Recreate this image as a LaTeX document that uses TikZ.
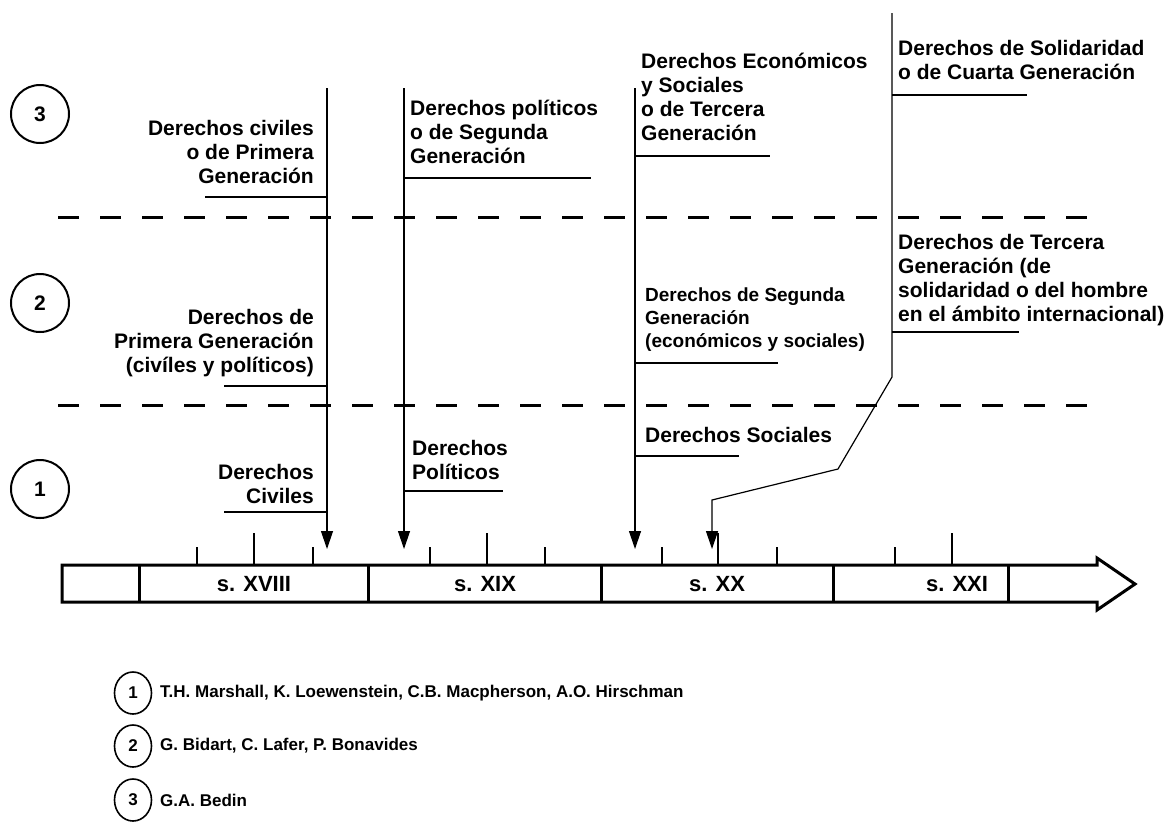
\documentclass[tikz,border=0pt]{standalone}
\usepackage{fontspec}
\setmainfont{Liberation Sans}
\usepackage{tikz}
\usetikzlibrary{calc,arrows.meta,shapes.geometric}

\begin{document}
\begin{tikzpicture}[x=1pt,y=-1pt]
\tikzstyle{num}=[circle,draw=black,line width=2pt,minimum size=58pt,inner sep=0pt,font=\fontsize{21}{24}\selectfont\bfseries]
\tikzstyle{lnum}=[ellipse,draw=black,line width=1.6pt,minimum width=37pt,minimum height=42pt,inner sep=0pt,font=\fontsize{17}{18}\selectfont\bfseries]
\tikzstyle{rights}=[inner sep=0pt,font=\fontsize{21}{24}\selectfont\bfseries]
\tikzstyle{leftr}=[rights,anchor=north west,align=left]
\tikzstyle{rightr}=[rights,anchor=north east,align=right]
\tikzstyle{pointer}=[-{Triangle[length=18pt,width=12pt]},line width=1.2pt]
\tikzstyle{under}=[line width=1.2pt]
\tikzstyle{level}=[dash pattern=on 21pt off 21pt,line width=3pt]
\tikzstyle{bar}=[line width=3pt,line join=miter]
\tikzstyle{smalltick}=[line width=1.2pt]
\tikzstyle{bigtick}=[line width=2pt]
\tikzstyle{century}=[font=\fontsize{22}{24}\selectfont\bfseries]
\tikzstyle{names}=[anchor=west,inner sep=0pt,font=\fontsize{17}{18}\selectfont\bfseries]

\useasboundingbox (0,0) rectangle (1174,831);

% levels
\draw[shift={(40,114)},color=black] node[num] (g3) {3};
\draw[shift={(40,303)},color=black] node[num] (g2) {2};
\draw[shift={(40,489)},color=black] node[num] (g1) {1};
\draw[level] (58,217) -- (1090,217);
\draw[level] (58,405) -- (1090,405);

% time line
\draw[bar] (62,565) -- (1097,565) -- (1097,558) -- (1135,584) -- (1097,610) -- (1097,602) -- (62,602) -- cycle;
\draw[bar] (139,565) -- (139,602);
\draw[bar] (368,565) -- (368,602);
\draw[bar] (601,565) -- (601,602);
\draw[bar] (833,565) -- (833,602);
\draw[bar] (1008,565) -- (1008,602);
\node[century] (s18) at (254,584) {s. XVIII};
\node[century] (s19) at (485,584) {s. XIX};
\node[century] (s20) at (717,584) {s. XX};
\node[century] (s21) at (957,584) {s. XXI};
\draw[smalltick] (197,547) -- (197,564);
\draw[bigtick] (254,533) -- (254,564);
\draw[smalltick] (313,547) -- (313,564);
\draw[smalltick] (430,547) -- (430,564);
\draw[bigtick] (487,533) -- (487,564);
\draw[smalltick] (545,547) -- (545,564);
\draw[smalltick] (662,547) -- (662,564);
\draw[bigtick] (718,533) -- (718,564);
\draw[smalltick] (777,547) -- (777,564);
\draw[smalltick] (895,547) -- (895,564);
\draw[bigtick] (952,533) -- (952,564);

% arrows
\coordinate (aTop) at (327,88);
\coordinate (aTip) at (327,549);
\coordinate (bTop) at (404,88);
\coordinate (bTip) at (404,549);
\coordinate (cTop) at (635,88);
\coordinate (cTip) at (635,549);
\coordinate (dTop) at (892,13);
\coordinate (dKnee) at (892,377);
\coordinate (dMid) at (838,469);
\coordinate (dFoot) at (712,500);
\coordinate (dTip) at (712,549);
\draw[pointer] (aTop) -- (aTip);
\draw[pointer] (bTop) -- (bTip);
\draw[pointer] (cTop) -- (cTip);
\draw[pointer] (dTop) -- (dKnee) -- (dMid) -- (dFoot) -- (dTip);

% civiles
\node[rightr] (a3) at (314,120) {Derechos civiles\\o de Primera\\Generación};
\node[rightr] (a2) at (314,309) {Derechos de\\Primera Generación\\(civíles y políticos)};
\node[rightr] (a1) at (314,464) {Derechos\\Civiles};
\draw[under] (aTop |- 0,197) -- (205,197);
\draw[under] (aTop |- 0,386) -- (224,386);
\draw[under] (aTop |- 0,512) -- (224,512);

% politicos
\node[leftr] (b3) at (410,100) {Derechos políticos\\o de Segunda\\Generación};
\node[leftr] (b1) at (412,440) {Derechos\\Políticos};
\draw[under] (bTop |- 0,178) -- (591,178);
\draw[under] (bTop |- 0,491) -- (503,491);

% sociales
\node[leftr] (c3) at (641,53) {Derechos Económicos\\y Sociales\\o de Tercera\\Generación};
\node[leftr,font=\fontsize{19}{23}\selectfont\bfseries] (c2) at (645,288) {Derechos de Segunda\\Generación\\(económicos y sociales)};
\node[leftr] (c1) at (645,427) {Derechos Sociales};
\draw[under] (cTop |- 0,156) -- (770,156);
\draw[under] (cTop |- 0,363) -- (778,363);
\draw[under] (cTop |- 0,456) -- (739,456);

% solidaridad
\node[leftr] (d3) at (898,40) {Derechos de Solidaridad\\o de Cuarta Generación};
\node[leftr] (d2) at (898,234) {Derechos de Tercera\\Generación (de\\solidaridad o del hombre\\en el ámbito internacional)};
\draw[under] (dTop |- 0,95) -- (1027,95);
\draw[under] (dTop |- 0,332) -- (1019,332);

% authors
\draw[shift={(133,693)},color=black] node[lnum] (k1) {1};
\draw[shift={(133,746)},color=black] node[lnum] (k2) {2};
\draw[shift={(133,800)},color=black] node[lnum] (k3) {3};
\node[names] (w1) at (160,693) {T.H. Marshall, K. Loewenstein, C.B. Macpherson, A.O. Hirschman};
\node[names] (w2) at (160,746) {G. Bidart, C. Lafer, P. Bonavides};
\node[names] (w3) at (160,800) {G.A. Bedin};
\end{tikzpicture}
\end{document}
